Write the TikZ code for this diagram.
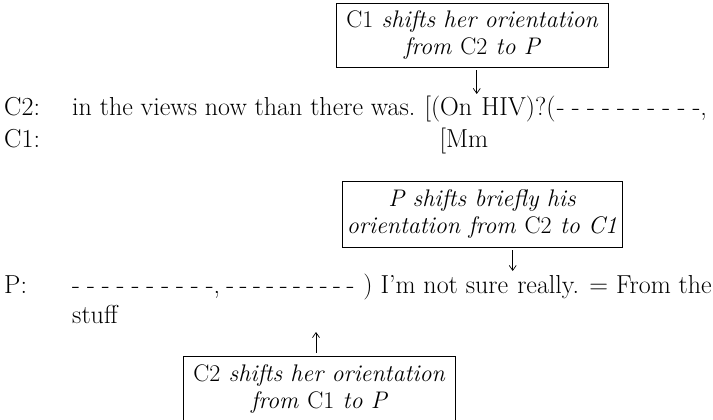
\documentclass[tikz,border=0pt]{standalone}
\usepackage{fontspec}
\usetikzlibrary{arrows.meta,calc}
\newcommand{\dashrun}[2]{\hbox to #1{#2}}
\begin{document}
\begin{tikzpicture}[x=1pt,y=-1pt,
  txt/.style={anchor=base west, inner sep=0pt, font=\fontsize{26}{31}\selectfont},
  note/.style={draw, line width=0.8pt, inner sep=0pt, align=center,
    font=\fontsize{24}{27}\selectfont\itshape},
  shiftarrow/.style={-{Straight Barb[length=5pt,width=7pt]}, line width=0.7pt, shorten <=3pt}]
\useasboundingbox (0,0) rectangle (713,420);

% box 1
\node[note, minimum width=272pt, minimum height=64pt] (b1) at (472,35)
  {\textup{C1} shifts her orientation\\ from \textup{C2} to \textit{P}};
% C2 / C1 lines
\node[txt] (sC2) at (4,115) {C2:};
\node[txt] (c2a) at (72,115) {in the views now than there was.};
\node[txt] (c2b) at ($(c2a.base east)+(8.7,0)$) {[(On};
\node[txt] (c2c) at ($(c2b.base east)+(8.7,0)$) {HIV)?(};
\node[txt] (c2d) at ($(c2c.base east)+(1,0)$) {\dashrun{150pt}{-\hfil-\hfil-\hfil-\hfil-\hfil-\hfil-\hfil-\hfil-\hfil-,}};
\node[txt] (sC1) at (4,147) {C1:};
\node[txt] (c1a) at ($(c2b.base west)+(15,32)$) {[Mm};
\coordinate (a1) at ($(c2b.base east)!0.5!(c2c.base west)+(0,-21)$);
\draw[shiftarrow] (b1.south -| a1) -- (a1);

% box 2
\node[note, minimum width=280pt, minimum height=66pt] (b2) at (482,214)
  {\textit{P} shifts briefly his\\ orientation from \textup{C2} to C1};
\node[txt] (sP) at (4,293) {P:};
\node[txt, anchor=base east] (p4) at (712,293) {really. = From the};
\node[txt, anchor=base east] (p3) at ($(p4.base west)+(-8.7,0)$) {) I'm not sure};
\node[txt] (p1) at (72,293) {\dashrun{148pt}{-\hfil-\hfil-\hfil-\hfil-\hfil-\hfil-\hfil-\hfil-\hfil-,}};
\node[txt, anchor=base east] (p2) at ($(p3.base west)+(-8.7,0)$) {\dashrun{128pt}{-\hfil-\hfil-\hfil-\hfil-\hfil-\hfil-\hfil-\hfil-\hfil-}};
\node[txt] (st) at (72,323) {stuff};
\coordinate (a2) at ($(p3.base east)!0.5!(p4.base west)+(0,-22)$);
\draw[shiftarrow] (b2.south -| a2) -- (a2);

% box 3 (its lower edge runs off the page)
\node[note, minimum width=272pt, minimum height=66pt] (b3) at (319,389)
  {\textup{C2} shifts her orientation\\ from \textup{C1} to \textit{P}};
\coordinate (a3) at (316,332);
\draw[shiftarrow] (b3.north -| a3) -- (a3);
\end{tikzpicture}
\end{document}
